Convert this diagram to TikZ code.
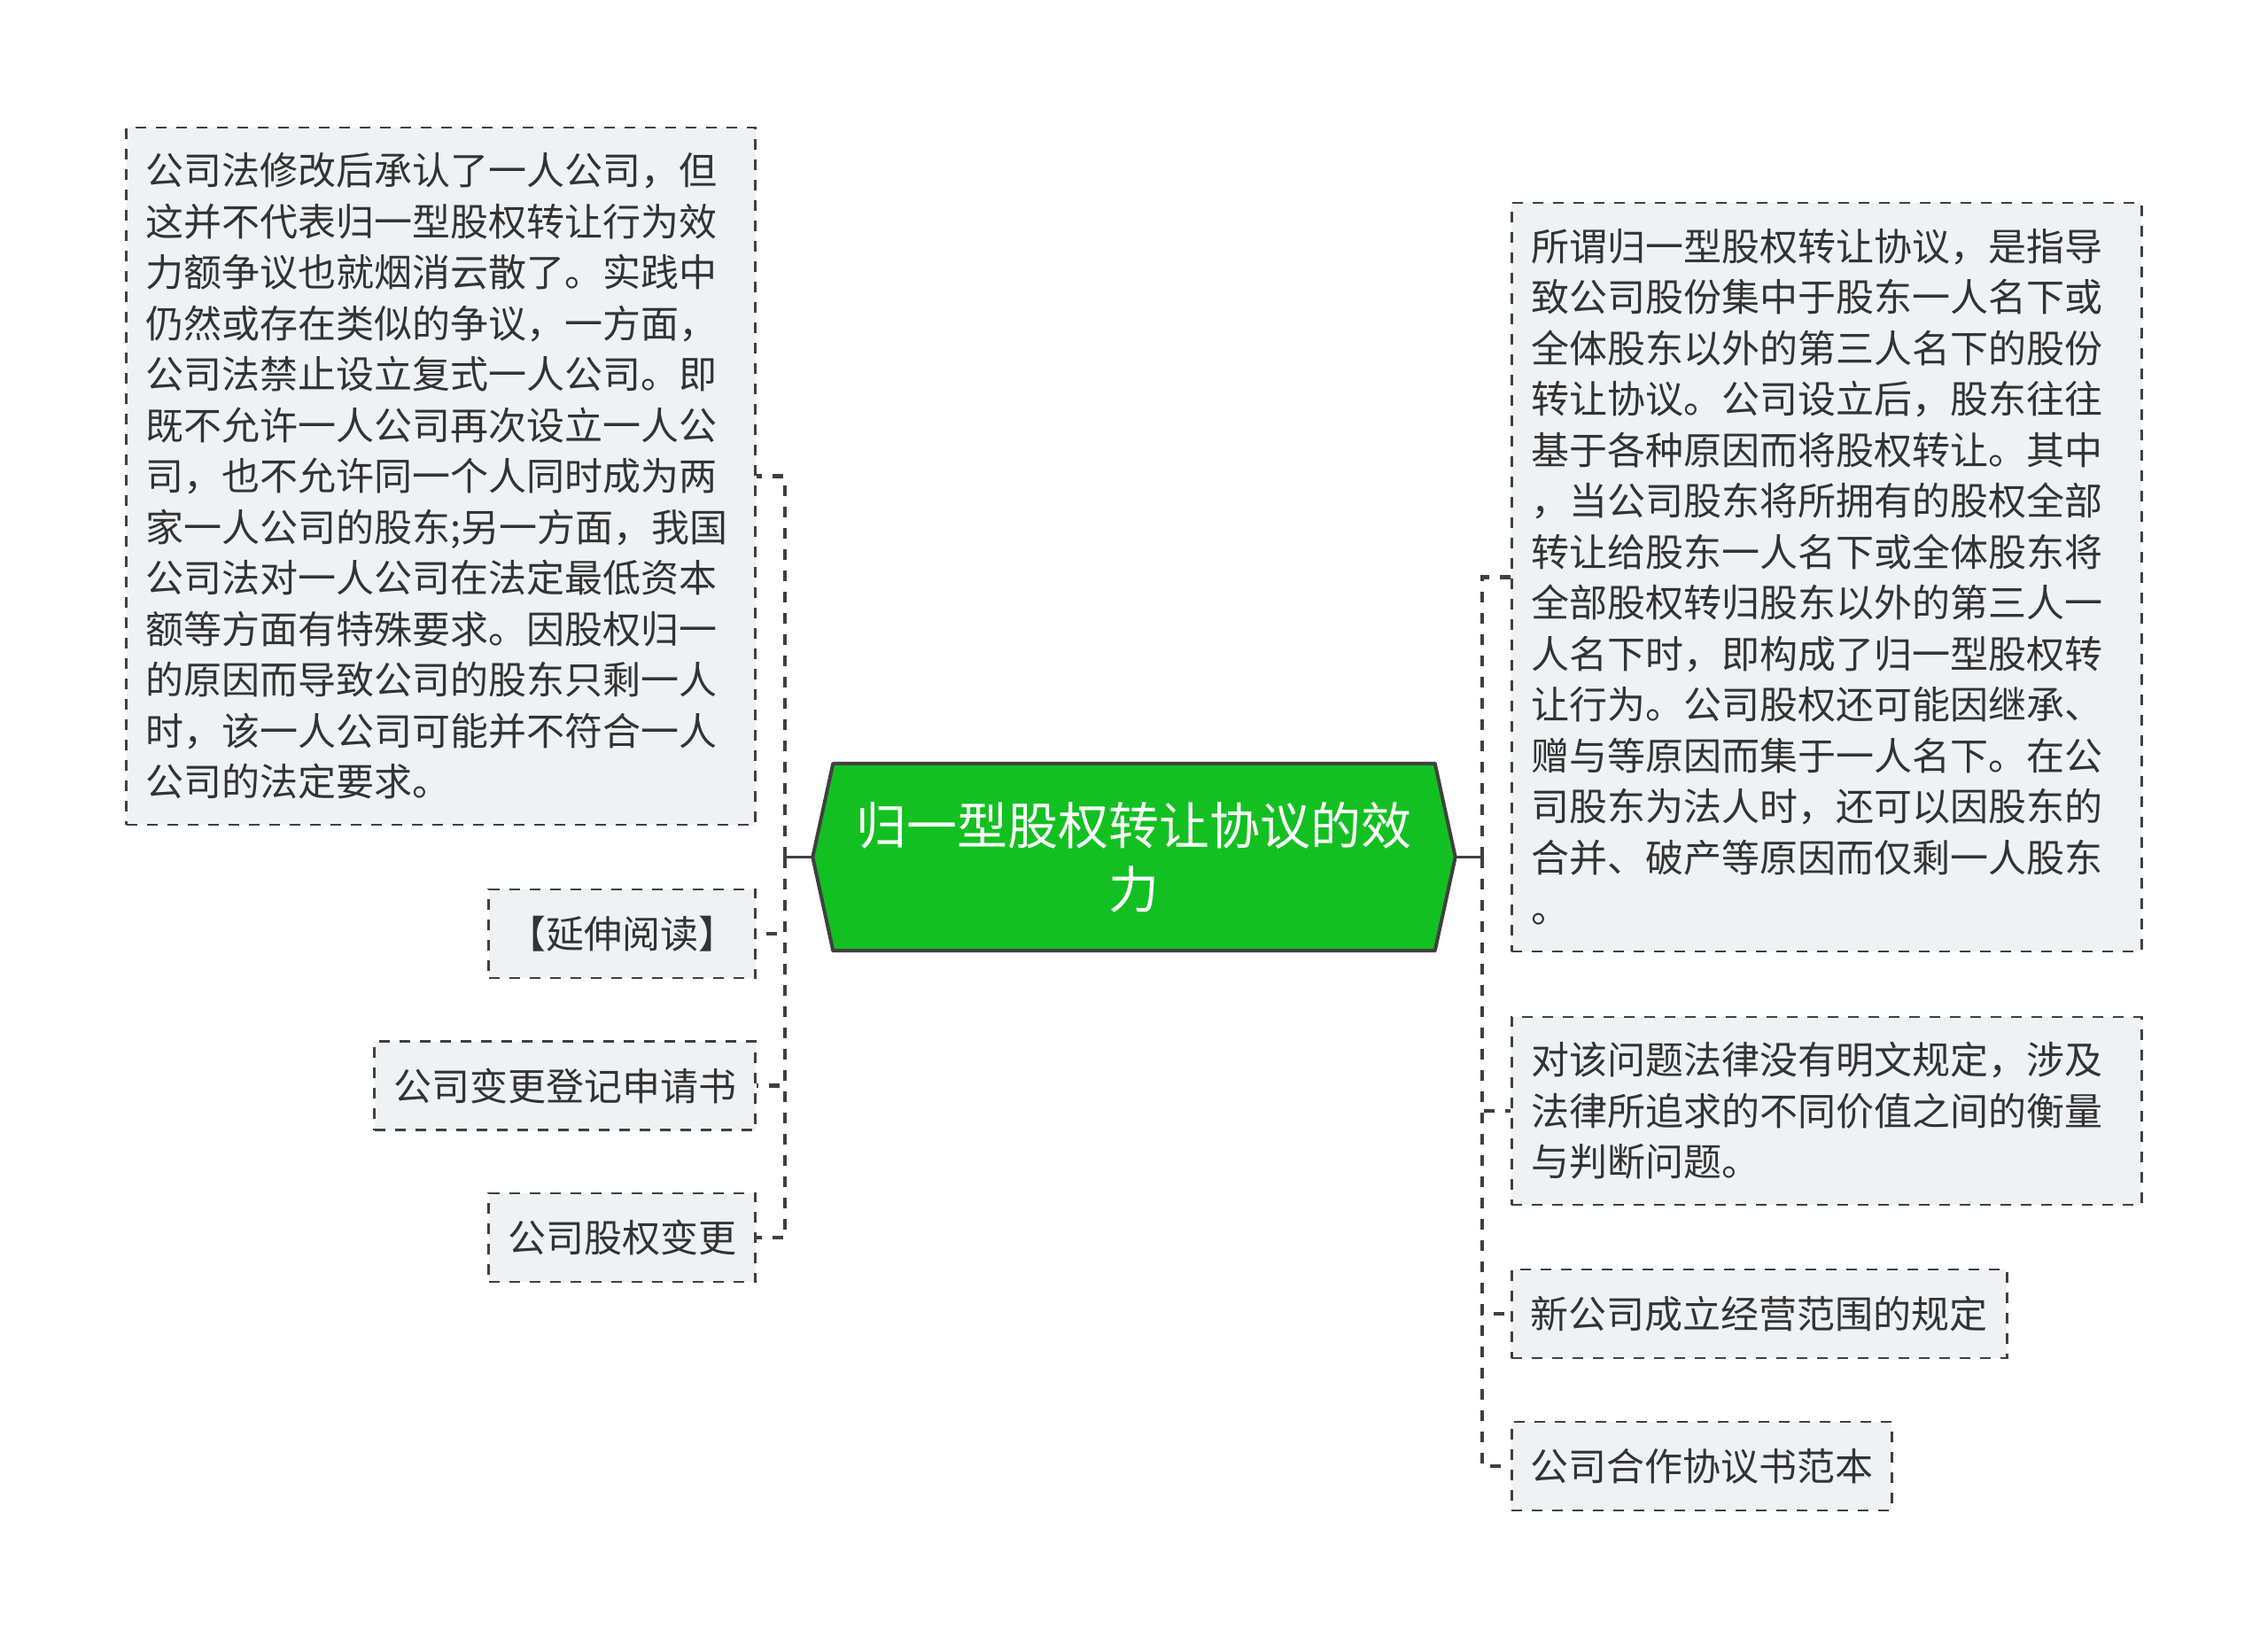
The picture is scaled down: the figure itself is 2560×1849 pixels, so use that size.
\documentclass[tikz,border=0pt]{standalone}
\usepackage{fontspec}
\setmainfont{Noto Sans CJK SC}
\usetikzlibrary{backgrounds,calc}
\definecolor{boxfill}{HTML}{EFF2F5}
\definecolor{boxline}{HTML}{404040}
\definecolor{txt}{HTML}{333333}
\definecolor{rootgreen}{HTML}{13C021}
\tikzset{
  leaf/.style={draw=boxline, fill=boxfill, line width=2.6pt, dash pattern=on 12pt off 11pt,
    text=txt, font=\fontsize{43}{57.5}\selectfont, inner sep=0pt, align=center},
  para/.style={leaf, align=left, text width=#1},
  link/.style={draw=boxline, line width=4.2pt, dash pattern=on 12pt off 12pt},
  stem/.style={draw=boxline, line width=3.5pt},
  rootbox/.style={minimum width=725pt, minimum height=211pt, inner sep=0pt, text=white,
    font=\fontsize{57}{72}\selectfont, align=center},
}
\begin{document}
\begin{tikzpicture}[x=1pt,y=-1pt]
\useasboundingbox (0,0) rectangle (2560,1849);

% central node
\node[rootbox] (root) at (1280,967.5) {归一型股权转让协议的效\\力};
\begin{scope}[on background layer]
  \fill[white] (0,0) rectangle (2560,1849);
  \filldraw[fill=rootgreen, draw=boxline, line width=4pt, line join=round]
    (root.west) -- ($(root.north west)+(23,0)$) -- ($(root.north east)+(-23,0)$)
    -- (root.east) -- ($(root.south east)+(-23,0)$) -- ($(root.south west)+(23,0)$) -- cycle;
\end{scope}

% left children
\node[para=667pt, minimum width=710pt, minimum height=787pt, anchor=east] (L1) at (854,537.5)
{公司法修改后承认了一人公司，但\\
这并不代表归一型股权转让行为效\\
力额争议也就烟消云散了。实践中\\
仍然或存在类似的争议，一方面，\\
公司法禁止设立复式一人公司。即\\
既不允许一人公司再次设立一人公\\
司，也不允许同一个人同时成为两\\
家一人公司的股东;另一方面，我国\\
公司法对一人公司在法定最低资本\\
额等方面有特殊要求。因股权归一\\
的原因而导致公司的股东只剩一人\\
时，该一人公司可能并不符合一人\\
公司的法定要求。};
\node[leaf, minimum width=301pt, minimum height=100pt, anchor=east] (L2) at (854,1054) {【延伸阅读】};
\node[leaf, minimum width=430pt, minimum height=100pt, anchor=east] (L3) at (854,1225.5) {公司变更登记申请书};
\node[leaf, minimum width=301pt, minimum height=100pt, anchor=east] (L4) at (854,1397) {公司股权变更};

% right children
\node[para=667pt, minimum width=711pt, minimum height=845pt, anchor=west] (R1) at (1705,651.5)
{所谓归一型股权转让协议，是指导\\
致公司股份集中于股东一人名下或\\
全体股东以外的第三人名下的股份\\
转让协议。公司设立后，股东往往\\
基于各种原因而将股权转让。其中\\
，当公司股东将所拥有的股权全部\\
转让给股东一人名下或全体股东将\\
全部股权转归股东以外的第三人一\\
人名下时，即构成了归一型股权转\\
让行为。公司股权还可能因继承、\\
赠与等原因而集于一人名下。在公\\
司股东为法人时，还可以因股东的\\
合并、破产等原因而仅剩一人股东\\
。};
\node[para=667pt, minimum width=711pt, minimum height=212pt, anchor=west] (R2) at (1705,1254)
{对该问题法律没有明文规定，涉及\\
法律所追求的不同价值之间的衡量\\
与判断问题。};
\node[leaf, minimum width=559pt, minimum height=100pt, anchor=west] (R3) at (1705,1483) {新公司成立经营范围的规定};
\node[leaf, minimum width=429pt, minimum height=100pt, anchor=west] (R4) at (1705,1655) {公司合作协议书范本};

% connectors
\coordinate (lj) at (886,967.5);
\coordinate (rj) at (1673,967.5);
\draw[stem] (root.west) -- (lj);
\draw[stem] (root.east) -- (rj);
\draw[stem] ($(lj)+(0,-11)$) -- ($(lj)+(0,11)$);
\draw[stem] ($(rj)+(0,-11)$) -- ($(rj)+(0,11)$);
\foreach \n in {L1,L2,L3,L4} \draw[link] (lj) |- (\n.east);
\foreach \n in {R1,R2,R3,R4} \draw[link] (rj) |- (\n.west);
\end{tikzpicture}
\end{document}
